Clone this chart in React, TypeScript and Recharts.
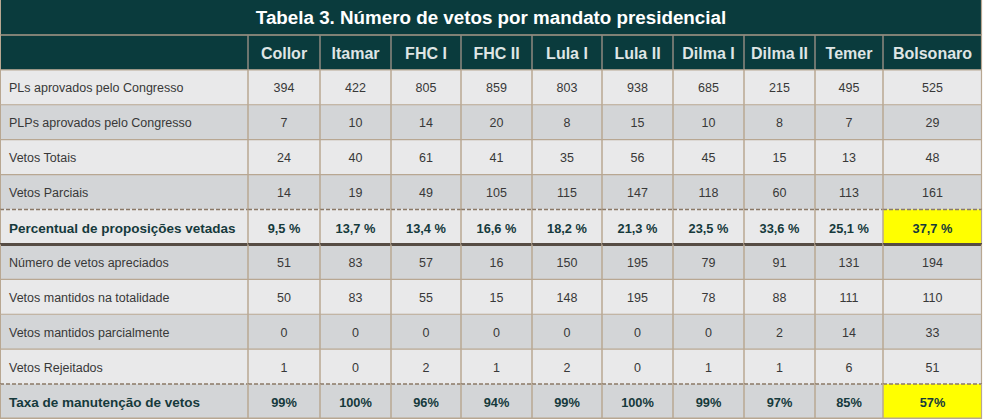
import { BarChart, Bar, XAxis, YAxis } from "recharts";

const titleText = "Tabela 3. Número de vetos por mandato presidencial";

const presidents = ["Collor", "Itamar", "FHC I", "FHC II", "Lula I", "Lula II", "Dilma I", "Dilma II", "Temer", "Bolsonaro"];

const rowLabels = [
  "PLs aprovados pelo Congresso",
  "PLPs aprovados pelo Congresso",
  "Vetos Totais",
  "Vetos Parciais",
  "Percentual de proposições vetadas",
  "Número de vetos apreciados",
  "Vetos mantidos na totalidade",
  "Vetos mantidos parcialmente",
  "Vetos Rejeitados",
  "Taxa de manutenção de vetos",
];

const plsAprovados = [394, 422, 805, 859, 803, 938, 685, 215, 495, 525];
const plpsAprovados = [7, 10, 14, 20, 8, 15, 10, 8, 7, 29];
const vetosTotais = [24, 40, 61, 41, 35, 56, 45, 15, 13, 48];
const vetosParciais = [14, 19, 49, 105, 115, 147, 118, 60, 113, 161];
const percentualVetadas = [9.5, 13.7, 13.4, 16.6, 18.2, 21.3, 23.5, 33.6, 25.1, 37.7];
const vetosApreciados = [51, 83, 57, 16, 150, 195, 79, 91, 131, 194];
const mantidosTotalidade = [50, 83, 55, 15, 148, 195, 78, 88, 111, 110];
const mantidosParcialmente = [0, 0, 0, 0, 0, 0, 0, 2, 14, 33];
const vetosRejeitados = [1, 0, 2, 1, 2, 0, 1, 1, 6, 51];
const taxaManutencao = [99, 100, 96, 94, 99, 100, 99, 97, 85, 57];

// column widths of the table (layout only)
const colWidths = [248, 72, 71, 70, 71, 70, 71, 71, 71, 68, 99];
const TOTAL = colWidths.reduce((a, b) => a + b, 0);

const FONT = '"Liberation Sans", Arial, sans-serif';
const DARK = "#0a3b3d";
const BORDER = "#b8a792";

const pct = (v: number) => v.toFixed(1).replace(".", ",") + " %";

const rows = [
  { kind: "title", label: titleText, values: [] as string[] },
  { kind: "header", label: "", values: presidents },
  { kind: "normal", label: rowLabels[0], values: plsAprovados.map(String) },
  { kind: "normal", label: rowLabels[1], values: plpsAprovados.map(String) },
  { kind: "normal", label: rowLabels[2], values: vetosTotais.map(String) },
  { kind: "normal", label: rowLabels[3], values: vetosParciais.map(String) },
  { kind: "bold", label: rowLabels[4], values: percentualVetadas.map(pct) },
  { kind: "normal", label: rowLabels[5], values: vetosApreciados.map(String) },
  { kind: "normal", label: rowLabels[6], values: mantidosTotalidade.map(String) },
  { kind: "normal", label: rowLabels[7], values: mantidosParcialmente.map(String) },
  { kind: "normal", label: rowLabels[8], values: vetosRejeitados.map(String) },
  { kind: "bold", label: rowLabels[9], values: taxaManutencao.map((v) => v + "%") },
];

const data = rows.map((r, i) => {
  const d: any = { row: "r" + i, idx: i, ...r };
  colWidths.forEach((w, c) => {
    d["c" + c] = r.kind === "title" ? (c === 0 ? TOTAL : 0) : w;
  });
  return d;
});

function makeCell(col: number) {
  return (p: any) => {
    const { x, y, width, height, payload } = p;
    if (!width || width < 0.5) return <g />;
    const { kind, idx, label, values } = payload;
    const isHead = kind === "title" || kind === "header";
    const isBold = kind === "bold";
    let fill = idx % 2 === 0 ? "#e9e9ea" : "#d3d5d7";
    if (isHead) fill = DARK;
    if (isBold && col === 10) fill = "#ffff00";
    const cy = y + height / 2 + 1;

    let text: any = null;
    if (kind === "title") {
      text = (
        <text x={x + width / 2} y={cy - 1} textAnchor="middle" dominantBaseline="central"
          fontFamily={FONT} fontSize={18.8} fontWeight="bold" fill="#ffffff">
          {label}
        </text>
      );
    } else if (kind === "header") {
      if (col > 0)
        text = (
          <text x={x + width / 2} y={cy + 0.5} textAnchor="middle" dominantBaseline="central"
            fontFamily={FONT} fontSize={16} fontWeight="bold" fill="#dfe5e5">
            {values[col - 1]}
          </text>
        );
    } else if (col === 0) {
      text = (
        <text x={x + 9} y={cy} textAnchor="start" dominantBaseline="central"
          fontFamily={FONT} fontSize={isBold ? 13.5 : 12.5} fontWeight={isBold ? "bold" : "normal"}
          fill={isBold ? "#163a3c" : "#383838"}>
          {label}
        </text>
      );
    } else {
      text = (
        <text x={x + width / 2} y={cy} textAnchor="middle" dominantBaseline="central"
          fontFamily={FONT} fontSize={isBold ? 12.8 : 12.5} fontWeight={isBold ? "bold" : "normal"}
          fill={isBold ? "#163a3c" : "#383838"}>
          {values[col - 1]}
        </text>
      );
    }

    let top: any = <line x1={x} x2={x + width} y1={y} y2={y} stroke={BORDER} strokeWidth={1.2} />;
    if (idx === 6 || idx === 11)
      top = <line x1={x} x2={x + width} y1={y} y2={y} stroke="#8a7866" strokeWidth={1.5} strokeDasharray="4 2" />;
    if (idx === 7)
      top = <line x1={x} x2={x + width} y1={y} y2={y} stroke="#564c44" strokeWidth={3} />;
    if (idx === 1)
      top = <line x1={x} x2={x + width} y1={y} y2={y} stroke="#a89a88" strokeWidth={1.5} />;

    return (
      <g>
        <rect x={x} y={y} width={width} height={height} fill={fill} />
        {idx > 0 && top}
        {col > 0 && kind !== "title" && (
          <line x1={x} x2={x} y1={y} y2={y + height} stroke={isHead ? "#8f8a80" : BORDER} strokeWidth={1.5} />
        )}
        {idx === rows.length - 1 && (
          <line x1={x} x2={x + width} y1={y + height - 0.75} y2={y + height - 0.75} stroke={BORDER} strokeWidth={1.5} />
        )}
        {(col === 10 || kind === "title") && (
          <line x1={x + width - 0.5} x2={x + width - 0.5} y1={y} y2={y + height} stroke={BORDER} strokeWidth={1.2} />
        )}
        {col === 0 && (
          <line x1={x + 0.5} x2={x + 0.5} y1={y} y2={y + height} stroke={BORDER} strokeWidth={1} />
        )}
        {text}
      </g>
    );
  };
}

export default function App() {
  return (
    <div style={{ position: "absolute", left: 0, top: 0, width: 985, height: 419, background: "#ffffff" }}>
      <BarChart
        width={985}
        height={419}
        data={data}
        layout="vertical"
        margin={{ top: 0, right: 0, left: 0, bottom: 0 }}
        barCategoryGap={0}
        barGap={0}
      >
        <XAxis type="number" domain={[0, 985]} hide />
        <YAxis type="category" dataKey="row" hide />
        {colWidths.map((_, c) => (
          <Bar key={c} dataKey={"c" + c} stackId="t" isAnimationActive={false} shape={makeCell(c)} />
        ))}
      </BarChart>
    </div>
  );
}
